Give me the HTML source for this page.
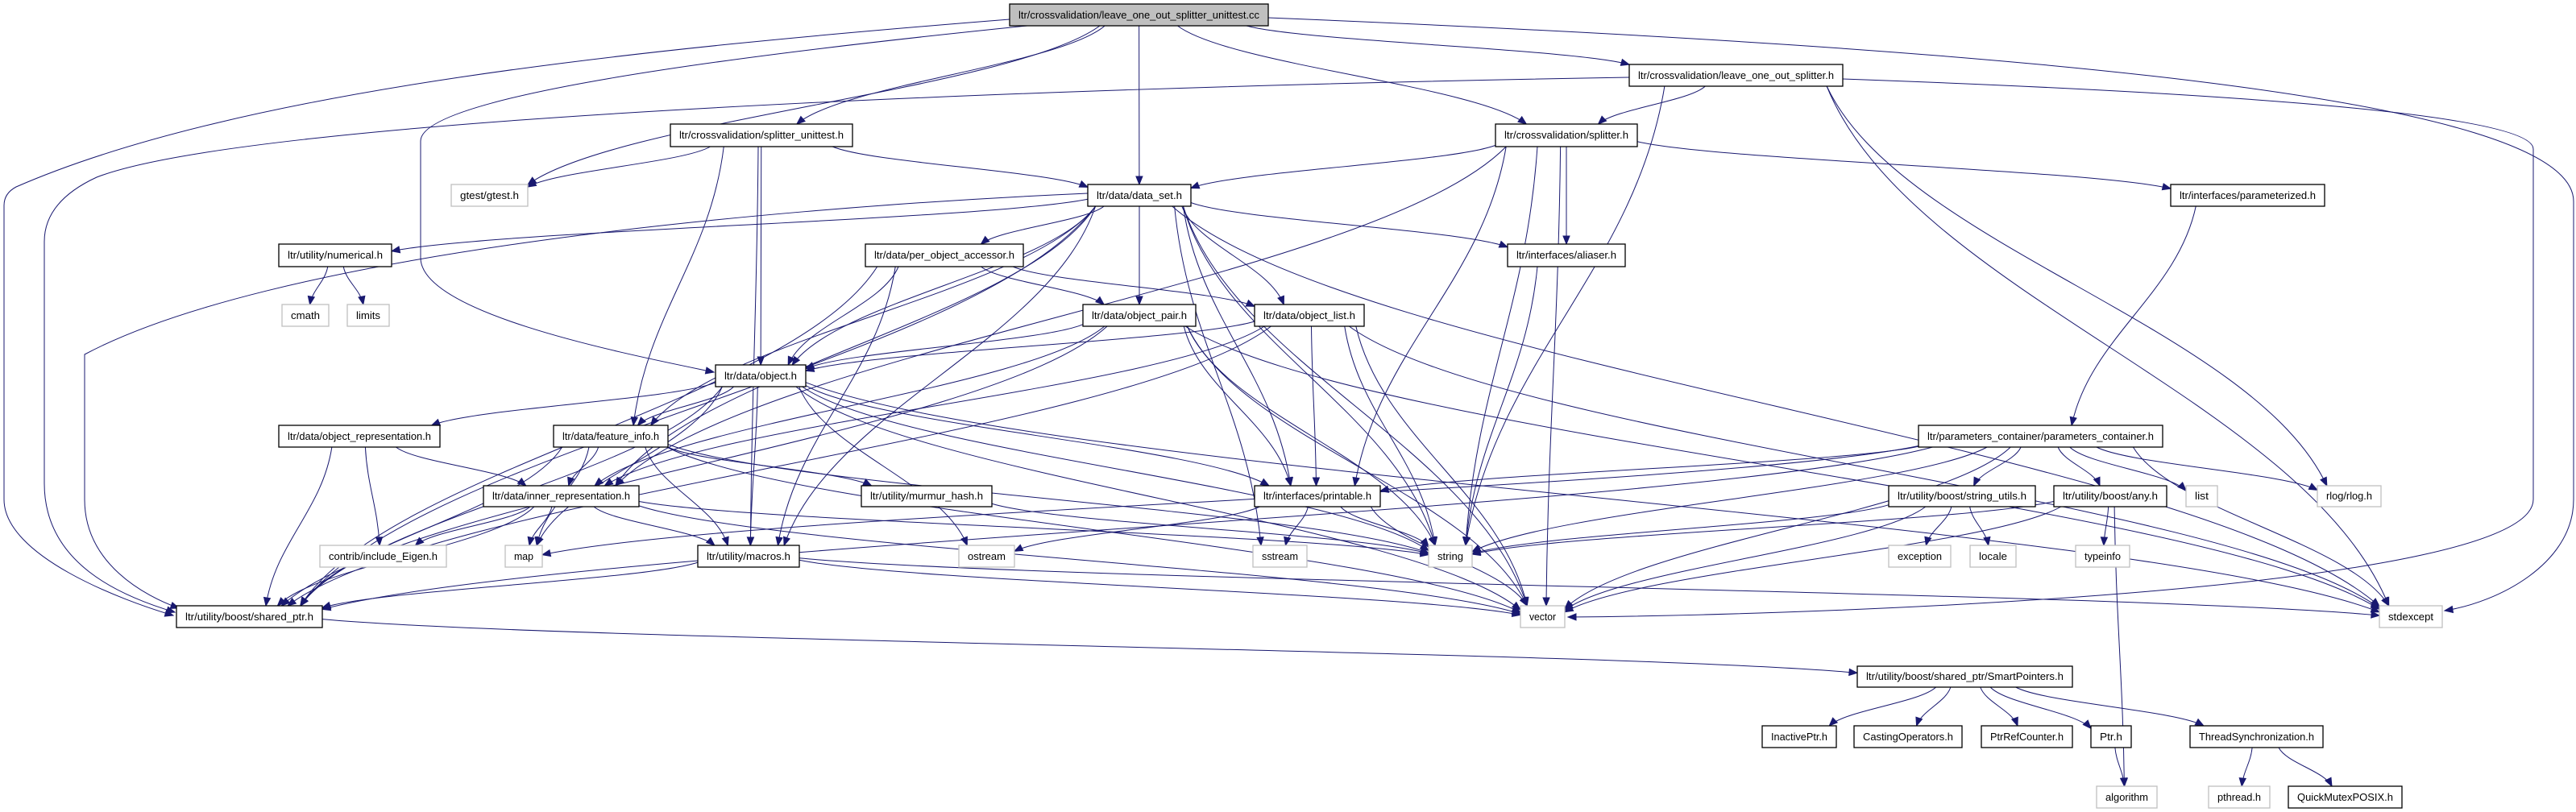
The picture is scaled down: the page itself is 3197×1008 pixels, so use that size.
<!DOCTYPE html>
<html><head><meta charset="utf-8"><style>
html,body{margin:0;padding:0;background:#fff;}
svg{display:block;}
text{font-family:"Liberation Sans",Arial,sans-serif;font-size:13px;fill:#000;}
</style></head><body>
<svg id="g" width="3197" height="1008" viewBox="0 0 3197 1008" xmlns="http://www.w3.org/2000/svg">
<g id="edges" fill="none" stroke="#191970" stroke-width="1"></g>
<g id="heads" fill="#191970" stroke="#191970" stroke-width="1"></g>
<g id="nodes" stroke-width="1.3">
<rect x="1253" y="5" width="321" height="27" fill="#bfbfbf" stroke="#000"/><text x="1413.5" y="23" text-anchor="middle" textLength="299" lengthAdjust="spacingAndGlyphs">ltr/crossvalidation/leave_one_out_splitter_unittest.cc</text>
<rect x="2022" y="80" width="265" height="27" fill="#fff" stroke="#000"/><text x="2154.5" y="98" text-anchor="middle" textLength="243" lengthAdjust="spacingAndGlyphs">ltr/crossvalidation/leave_one_out_splitter.h</text>
<rect x="832" y="154" width="226" height="28" fill="#fff" stroke="#000"/><text x="945" y="172" text-anchor="middle" textLength="204" lengthAdjust="spacingAndGlyphs">ltr/crossvalidation/splitter_unittest.h</text>
<rect x="1856" y="154" width="176" height="28" fill="#fff" stroke="#000"/><text x="1944" y="172" text-anchor="middle" textLength="154" lengthAdjust="spacingAndGlyphs">ltr/crossvalidation/splitter.h</text>
<rect x="560" y="229" width="95" height="27" fill="#fff" stroke="#bfbfbf"/><text x="607.5" y="247" text-anchor="middle" textLength="73" lengthAdjust="spacingAndGlyphs">gtest/gtest.h</text>
<rect x="1350" y="229" width="128" height="27" fill="#fff" stroke="#000"/><text x="1414" y="247" text-anchor="middle" textLength="106" lengthAdjust="spacingAndGlyphs">ltr/data/data_set.h</text>
<rect x="2694" y="229" width="191" height="27" fill="#fff" stroke="#000"/><text x="2789.5" y="247" text-anchor="middle" textLength="169" lengthAdjust="spacingAndGlyphs">ltr/interfaces/parameterized.h</text>
<rect x="346" y="303" width="140" height="28" fill="#fff" stroke="#000"/><text x="416" y="321" text-anchor="middle" textLength="118" lengthAdjust="spacingAndGlyphs">ltr/utility/numerical.h</text>
<rect x="1074" y="303" width="196" height="28" fill="#fff" stroke="#000"/><text x="1172" y="321" text-anchor="middle" textLength="174" lengthAdjust="spacingAndGlyphs">ltr/data/per_object_accessor.h</text>
<rect x="1871" y="303" width="146" height="28" fill="#fff" stroke="#000"/><text x="1944" y="321" text-anchor="middle" textLength="124" lengthAdjust="spacingAndGlyphs">ltr/interfaces/aliaser.h</text>
<rect x="350" y="378" width="58" height="27" fill="#fff" stroke="#bfbfbf"/><text x="379" y="396" text-anchor="middle" textLength="36" lengthAdjust="spacingAndGlyphs">cmath</text>
<rect x="431" y="378" width="52" height="27" fill="#fff" stroke="#bfbfbf"/><text x="457" y="396" text-anchor="middle" textLength="30" lengthAdjust="spacingAndGlyphs">limits</text>
<rect x="1344" y="378" width="140" height="27" fill="#fff" stroke="#000"/><text x="1414" y="396" text-anchor="middle" textLength="118" lengthAdjust="spacingAndGlyphs">ltr/data/object_pair.h</text>
<rect x="1557" y="378" width="136" height="27" fill="#fff" stroke="#000"/><text x="1625" y="396" text-anchor="middle" textLength="114" lengthAdjust="spacingAndGlyphs">ltr/data/object_list.h</text>
<rect x="888" y="453" width="112" height="27" fill="#fff" stroke="#000"/><text x="944" y="471" text-anchor="middle" textLength="90" lengthAdjust="spacingAndGlyphs">ltr/data/object.h</text>
<rect x="346" y="528" width="200" height="27" fill="#fff" stroke="#000"/><text x="446" y="546" text-anchor="middle" textLength="178" lengthAdjust="spacingAndGlyphs">ltr/data/object_representation.h</text>
<rect x="687" y="528" width="142" height="27" fill="#fff" stroke="#000"/><text x="758" y="546" text-anchor="middle" textLength="120" lengthAdjust="spacingAndGlyphs">ltr/data/feature_info.h</text>
<rect x="2381" y="528" width="303" height="27" fill="#fff" stroke="#000"/><text x="2532.5" y="546" text-anchor="middle" textLength="281" lengthAdjust="spacingAndGlyphs">ltr/parameters_container/parameters_container.h</text>
<rect x="600" y="603" width="193" height="26" fill="#fff" stroke="#000"/><text x="696.5" y="620" text-anchor="middle" textLength="171" lengthAdjust="spacingAndGlyphs">ltr/data/inner_representation.h</text>
<rect x="1069" y="603" width="162" height="26" fill="#fff" stroke="#000"/><text x="1150" y="620" text-anchor="middle" textLength="140" lengthAdjust="spacingAndGlyphs">ltr/utility/murmur_hash.h</text>
<rect x="1557" y="603" width="156" height="26" fill="#fff" stroke="#000"/><text x="1635" y="620" text-anchor="middle" textLength="134" lengthAdjust="spacingAndGlyphs">ltr/interfaces/printable.h</text>
<rect x="2344" y="603" width="182" height="26" fill="#fff" stroke="#000"/><text x="2435" y="620" text-anchor="middle" textLength="160" lengthAdjust="spacingAndGlyphs">ltr/utility/boost/string_utils.h</text>
<rect x="2549" y="603" width="140" height="26" fill="#fff" stroke="#000"/><text x="2619" y="620" text-anchor="middle" textLength="118" lengthAdjust="spacingAndGlyphs">ltr/utility/boost/any.h</text>
<rect x="2713" y="603" width="39" height="26" fill="#fff" stroke="#bfbfbf"/><text x="2732.5" y="620" text-anchor="middle" textLength="17" lengthAdjust="spacingAndGlyphs">list</text>
<rect x="2876" y="603" width="79" height="26" fill="#fff" stroke="#bfbfbf"/><text x="2915.5" y="620" text-anchor="middle" textLength="57" lengthAdjust="spacingAndGlyphs">rlog/rlog.h</text>
<rect x="397" y="677" width="157" height="27" fill="#fff" stroke="#bfbfbf"/><text x="475.5" y="695" text-anchor="middle" textLength="135" lengthAdjust="spacingAndGlyphs">contrib/include_Eigen.h</text>
<rect x="627" y="677" width="46" height="27" fill="#fff" stroke="#bfbfbf"/><text x="650" y="695" text-anchor="middle" textLength="24" lengthAdjust="spacingAndGlyphs">map</text>
<rect x="866" y="677" width="126" height="27" fill="#fff" stroke="#000"/><text x="929" y="695" text-anchor="middle" textLength="104" lengthAdjust="spacingAndGlyphs">ltr/utility/macros.h</text>
<rect x="1190" y="677" width="69" height="27" fill="#fff" stroke="#bfbfbf"/><text x="1224.5" y="695" text-anchor="middle" textLength="47" lengthAdjust="spacingAndGlyphs">ostream</text>
<rect x="1555" y="677" width="67" height="27" fill="#fff" stroke="#bfbfbf"/><text x="1588.5" y="695" text-anchor="middle" textLength="45" lengthAdjust="spacingAndGlyphs">sstream</text>
<rect x="1773" y="677" width="54" height="27" fill="#fff" stroke="#bfbfbf"/><text x="1800" y="695" text-anchor="middle" textLength="32" lengthAdjust="spacingAndGlyphs">string</text>
<rect x="2344" y="677" width="77" height="27" fill="#fff" stroke="#bfbfbf"/><text x="2382.5" y="695" text-anchor="middle" textLength="55" lengthAdjust="spacingAndGlyphs">exception</text>
<rect x="2445" y="677" width="57" height="27" fill="#fff" stroke="#bfbfbf"/><text x="2473.5" y="695" text-anchor="middle" textLength="35" lengthAdjust="spacingAndGlyphs">locale</text>
<rect x="2576" y="677" width="67" height="27" fill="#fff" stroke="#bfbfbf"/><text x="2609.5" y="695" text-anchor="middle" textLength="45" lengthAdjust="spacingAndGlyphs">typeinfo</text>
<rect x="219" y="752" width="181" height="27" fill="#fff" stroke="#000"/><text x="309.5" y="770" text-anchor="middle" textLength="159" lengthAdjust="spacingAndGlyphs">ltr/utility/boost/shared_ptr.h</text>
<rect x="1887" y="752" width="55" height="27" fill="#fff" stroke="#bfbfbf"/><text x="1914.5" y="770" text-anchor="middle" textLength="33" lengthAdjust="spacingAndGlyphs">vector</text>
<rect x="2953" y="752" width="78" height="27" fill="#fff" stroke="#bfbfbf"/><text x="2992" y="770" text-anchor="middle" textLength="56" lengthAdjust="spacingAndGlyphs">stdexcept</text>
<rect x="2305" y="827" width="267" height="26" fill="#fff" stroke="#000"/><text x="2438.5" y="844" text-anchor="middle" textLength="245" lengthAdjust="spacingAndGlyphs">ltr/utility/boost/shared_ptr/SmartPointers.h</text>
<rect x="2187" y="901" width="92" height="27" fill="#fff" stroke="#000"/><text x="2233" y="919" text-anchor="middle" textLength="70" lengthAdjust="spacingAndGlyphs">InactivePtr.h</text>
<rect x="2301" y="901" width="134" height="27" fill="#fff" stroke="#000"/><text x="2368" y="919" text-anchor="middle" textLength="112" lengthAdjust="spacingAndGlyphs">CastingOperators.h</text>
<rect x="2459" y="901" width="113" height="27" fill="#fff" stroke="#000"/><text x="2515.5" y="919" text-anchor="middle" textLength="91" lengthAdjust="spacingAndGlyphs">PtrRefCounter.h</text>
<rect x="2595" y="901" width="50" height="27" fill="#fff" stroke="#000"/><text x="2620" y="919" text-anchor="middle" textLength="28" lengthAdjust="spacingAndGlyphs">Ptr.h</text>
<rect x="2718" y="901" width="165" height="27" fill="#fff" stroke="#000"/><text x="2800.5" y="919" text-anchor="middle" textLength="143" lengthAdjust="spacingAndGlyphs">ThreadSynchronization.h</text>
<rect x="2602" y="976" width="75" height="27" fill="#fff" stroke="#bfbfbf"/><text x="2639.5" y="994" text-anchor="middle" textLength="53" lengthAdjust="spacingAndGlyphs">algorithm</text>
<rect x="2741" y="976" width="76" height="27" fill="#fff" stroke="#bfbfbf"/><text x="2779" y="994" text-anchor="middle" textLength="54" lengthAdjust="spacingAndGlyphs">pthread.h</text>
<rect x="2840" y="976" width="141" height="27" fill="#fff" stroke="#000"/><text x="2910.5" y="994" text-anchor="middle" textLength="119" lengthAdjust="spacingAndGlyphs">QuickMutexPOSIX.h</text>
</g>
</svg>
<script>
(function(){
var N={root:[1253,5,1574,32],los:[2022,80,2287,107],sut:[832,154,1058,182],spl:[1856,154,2032,182],gtest:[560,229,655,256],ds:[1350,229,1478,256],param:[2694,229,2885,256],num:[346,303,486,331],poa:[1074,303,1270,331],ali:[1871,303,2017,331],cmath:[350,378,408,405],limits:[431,378,483,405],op:[1344,378,1484,405],ol:[1557,378,1693,405],obj:[888,453,1000,480],orep:[346,528,546,555],fi:[687,528,829,555],pc:[2381,528,2684,555],ir:[600,603,793,629],mh:[1069,603,1231,629],pr:[1557,603,1713,629],su:[2344,603,2526,629],any:[2549,603,2689,629],list:[2713,603,2752,629],rlog:[2876,603,2955,629],eig:[397,677,554,704],map:[627,677,673,704],mac:[866,677,992,704],ost:[1190,677,1259,704],sst:[1555,677,1622,704],str:[1773,677,1827,704],exc:[2344,677,2421,704],loc:[2445,677,2502,704],typ:[2576,677,2643,704],sp:[219,752,400,779],vec:[1887,752,1942,779],stdx:[2953,752,3031,779],smp:[2305,827,2572,853],ina:[2187,901,2279,928],cas:[2301,901,2435,928],prc:[2459,901,2572,928],ptr:[2595,901,2645,928],ts:[2718,901,2883,928],alg:[2602,976,2677,1003],pth:[2741,976,2817,1003],qm:[2840,976,2981,1003]};
var E="root>gtest root>sut root>ds root>los root>spl los>spl los>str los>rlog los>stdx sut>gtest sut>ds sut>obj sut>fi sut>mac spl>ds spl>ali spl>pr spl>str spl>vec spl>param spl>ir ds>num ds>poa ds>op ds>ol ds>obj ds>ali ds>pr ds>str ds>vec ds>sst ds>stdx ds>sp ds>mac ds>fi ds>ir param>pc pc>pr pc>str pc>vec pc>list pc>rlog pc>stdx pc>su pc>any pc>sp pc>map poa>op poa>ol poa>obj poa>sp poa>mac op>obj op>ir op>pr op>str op>vec op>sp op>stdx ol>obj ol>pr ol>str ol>vec ol>stdx ol>ir ol>sp obj>orep obj>fi obj>pr obj>str obj>vec obj>ost obj>map obj>sp obj>mac obj>stdx orep>ir orep>eig orep>sp fi>ir fi>mh fi>mac fi>map fi>str fi>vec fi>sp ir>eig ir>map ir>sp ir>mac ir>str ir>vec mh>str mac>sp mac>vec mac>stdx pr>ost pr>sst pr>str pr>vec ali>str su>str su>exc su>loc su>vec any>typ any>alg any>vec any>str sp>smp smp>ina smp>cas smp>prc smp>ptr smp>ts ptr>alg ts>pth ts>qm num>cmath num>limits".split(" ");
var eg=document.getElementById("edges"),hg=document.getElementById("heads"),NS="http://www.w3.org/2000/svg";
function clip(b,px,py,cx,cy){var dx=px-cx,dy=py-cy,hw=(b[2]-b[0])/2,hh=(b[3]-b[1])/2;var t=Math.min(dx?hw/Math.abs(dx):1e9,dy?hh/Math.abs(dy):1e9);return [cx+dx*t,cy+dy*t];}
function cl(v,a,b){return Math.max(a,Math.min(b,v));}
function head(x0,y0,x1,y1){var dx=x1-x0,dy=y1-y0,l=Math.sqrt(dx*dx+dy*dy)||1;dx/=l;dy/=l;var bx=x1-dx*10,by=y1-dy*10;var p=document.createElementNS(NS,"polygon");p.setAttribute("points",x1+","+y1+" "+(bx-dy*4)+","+(by+dx*4)+" "+(bx+dy*4)+","+(by-dx*4));hg.appendChild(p);}
function path(d){var p=document.createElementNS(NS,"path");p.setAttribute("d",d);eg.appendChild(p);}
E.forEach(function(e){var a=e.split(">"),s=N[a[0]],t=N[a[1]];var scx=(s[0]+s[2])/2,scy=(s[1]+s[3])/2,tcx=(t[0]+t[2])/2,tcy=(t[1]+t[3])/2;
var p0,p1;
var shw=(s[2]-s[0])/2,thw=(t[2]-t[0])/2;
if(t[1]>s[3]+10 && Math.abs(tcx-scx)<(t[1]-s[3])*3){
  p0=[scx+cl((tcx-scx)*0.25,-shw*0.85,shw*0.85),s[3]];
  p1=[tcx+cl((scx-tcx)*0.15,-thw*0.7,thw*0.7),t[1]];
}else{p0=clip(s,tcx,tcy,scx,scy);p1=clip(t,scx,scy,tcx,tcy);}
var dy=p1[1]-p0[1];var c1=[p0[0]+(p1[0]-p0[0])*0.15,p0[1]+dy*0.4],c2=[p1[0]-(p1[0]-p0[0])*0.15,p1[1]-dy*0.4];
path("M"+p0[0]+","+p0[1]+" C"+c1[0]+","+c1[1]+" "+c2[0]+","+c2[1]+" "+p1[0]+","+p1[1]);head(c2[0],c2[1],p1[0],p1[1]);});
var C=[["M1253,24 C800,60 300,110 20,232 Q5,240 5,255 L5,620 C5,690 150,745 215,764",150,745,215,764],
["M1275,32 C900,70 522,120 522,175 L522,320 C522,390 780,440 886,462",780,440,886,462],
["M2287,98 C2900,120 3144,150 3144,185 L3144,620 C3144,730 2300,763 1946,766",2300,763,1946,766],
["M1574,22 C2500,60 3194,120 3194,250 L3194,620 C3194,700 3100,748 3034,758",3100,748,3034,758],
["M2022,96 C1200,110 300,150 120,220 Q55,250 55,300 L55,600 C55,700 150,740 217,760",150,740,217,760],
["M1350,240 C900,260 330,320 105,440 L105,620 C105,700 180,740 222,755",180,740,222,755]];
C.forEach(function(c){path(c[0]);head(c[1],c[2],c[3],c[4]);});
})();
</script>
</body></html>
